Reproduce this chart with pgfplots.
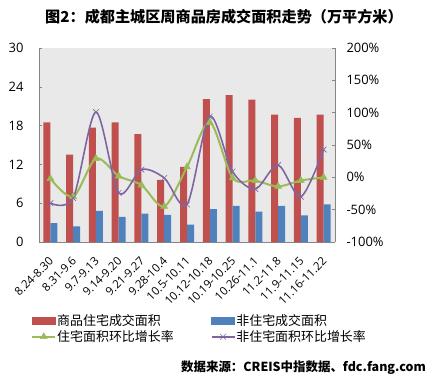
\documentclass[border=0pt]{standalone}
\usepackage{fontspec}
\setmainfont{Open Sans}
\newfontfamily\cjk{Noto Sans CJK SC}
\usepackage{pgfplots}
\usepackage{pgfplotstable}
\pgfplotsset{compat=1.18}
\definecolor{cRed}{HTML}{C0504D}
\definecolor{cBlue}{HTML}{4F81BD}
\definecolor{cGreen}{HTML}{9BBB59}
\definecolor{cPurple}{HTML}{8064A2}
\definecolor{cAxis}{HTML}{868686}
\definecolor{cBg}{HTML}{E9E9E9}

\pgfplotstableread{
x res nonres resg nonresg
0 18.5 2.9 -2 -40
1 13.5 2.4 -30 -32
2 17.7 4.8 29 101
3 18.5 3.9 2 -24
4 16.7 4.4 -12 12
5 9.6 4.2 -45 -1
6 11.6 2.7 16 -42
7 22.1 5.1 85 94
8 22.7 5.6 -1 9
9 22.0 4.7 -5 -18
10 19.7 5.6 -14 19
11 19.2 4.1 -5 -30
12 19.7 5.8 0 43
}\data

\begin{document}
\begin{tikzpicture}
\path[use as bounding box] (-39bp,-146bp) rectangle (395bp,242bp);
\begin{axis}[
  scale only axis, width=296bp, height=194bp, at={(0,0)}, anchor=south west,
  xmin=-0.5, xmax=12.5, ymin=0, ymax=30,
  axis x line*=bottom, axis y line*=left,
  axis line style={cAxis, line width=0.8pt, -},
  axis background/.style={fill=cBg},
  ybar=0pt, bar width=7bp,
  ytick={0,6,...,30},
  tick align=inside,
  major tick length=3bp, minor tick length=4bp,
  ytick style={cAxis, line width=0.6pt},
  xtick={0,...,12},
  xtick style={draw=none},
  minor xtick={0.5,1.5,...,11.5},
  minor x tick style={cAxis, line width=0.6pt},
  xticklabels={8.24-8.30,8.31-9.6,9.7-9.13,9.14-9.20,9.21-9.27,9.28-10.4,10.5-10.11,10.12-10.18,10.19-10.25,10.26-11.1,11.2-11.8,11.9-11.15,11.16-11.22},
  xticklabel style={xshift=1bp, yshift=-17bp, rotate=45, anchor=east, inner sep=0pt, font=\fontsize{11.5}{12}\selectfont},
  yticklabel style={font=\fontsize{13}{14}\selectfont, anchor=east, xshift=-12bp},
  /pgf/number format/assume math mode=true,
]
\addplot[fill=cRed, draw=none] table[x=x,y=res]{\data};
\addplot[fill=cBlue, draw=none] table[x=x,y=nonres]{\data};
\end{axis}
\begin{axis}[
  scale only axis, width=296bp, height=194bp, at={(0,0)}, anchor=south west,
  xmin=-0.5, xmax=12.5, ymin=-100, ymax=200,
  axis x line=none, axis y line*=right,
  axis line style={cAxis, line width=0.8pt, -},
  ytick={-100,-50,...,200},
  tick align=inside, major tick length=3bp,
  ytick style={cAxis, line width=0.6pt},
  yticklabel={\pgfmathprintnumber{\tick}\%},
  yticklabel style={font=\fontsize{13}{14}\selectfont, anchor=west, xshift=8bp},
  /pgf/number format/assume math mode=true,
  legend columns=2,
  legend style={at={(-0.027,-0.3675)}, anchor=north west, draw=none, fill=none,
    font=\cjk\fontsize{13}{13.5}\selectfont, inner sep=0pt, row sep=1.5bp,
    nodes={inner sep=1bp},
    /tikz/every even column/.append style={column sep=36bp}},
  legend cell align=left,
]
\addlegendimage{legend image code/.code={\fill[cRed] (0bp,-3.5bp) rectangle (23bp,3.5bp);}}
\addlegendentry{商品住宅成交面积}
\addlegendimage{legend image code/.code={\fill[cBlue] (0bp,-3.5bp) rectangle (23bp,3.5bp);}}
\addlegendentry{非住宅成交面积}
\addplot[cGreen, line width=2pt, smooth, tension=0.5, mark=triangle*, mark size=4bp,
  mark options={fill=cGreen, line width=0.5pt},
  legend image code/.code={\draw[mark repeat=2,mark phase=2] plot coordinates {(0bp,0bp) (11.5bp,0bp) (23bp,0bp)};}]
  table[x=x,y=resg]{\data};
\addlegendentry{住宅面积环比增长率}
\addplot[cPurple, line width=1.6pt, smooth, tension=0.5, mark=x, mark size=4bp,
  mark options={line width=0.6pt},
  legend image code/.code={\draw[mark repeat=2,mark phase=2] plot coordinates {(0bp,0bp) (11.5bp,0bp) (23bp,0bp)};}]
  table[x=x,y=nonresg]{\data};
\addlegendentry{非住宅面积环比增长率}
\end{axis}
\node[font=\cjk\bfseries\fontsize{15.2}{16}\selectfont] at (185bp,225bp) {图2：成都主城区周商品房成交面积走势（万平方米）};
\node[font=\cjk\bfseries\fontsize{12.5}{14}\selectfont, anchor=east, inner sep=0pt] at (387bp,-126bp) {数据来源：CREIS中指数据、fdc.fang.com};
\end{tikzpicture}
\end{document}
